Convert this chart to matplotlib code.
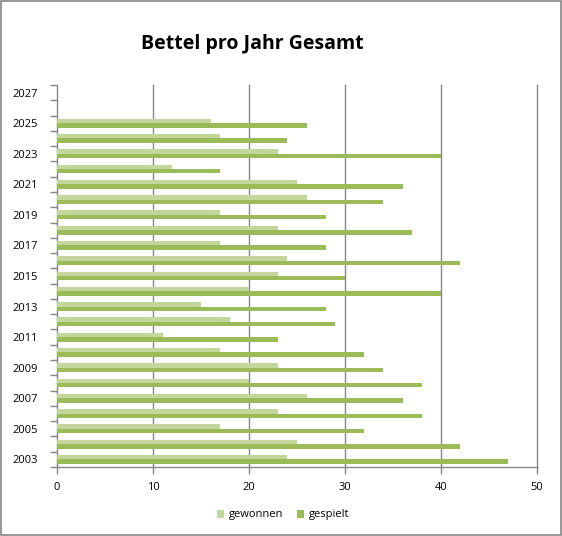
import matplotlib.pyplot as plt
import numpy as np
from matplotlib.patches import Rectangle

years = list(range(2003, 2028))
gewonnen = [24, 25, 17, 23, 26, 20, 23, 17, 11, 18, 15, 20, 23,
            24, 17, 23, 17, 26, 25, 12, 23, 17, 16, 0, 0]
gespielt = [47, 42, 32, 38, 36, 38, 34, 32, 23, 29, 28, 40, 30,
            42, 28, 37, 28, 34, 36, 17, 40, 24, 26, 0, 0]
x_ticks = [0, 10, 20, 30, 40, 50]

plt.rcParams['font.family'] = ['Open Sans', 'DejaVu Sans']

fig = plt.figure(figsize=(5.62, 5.36), dpi=100)
fig.patches.append(Rectangle((0.001, 0.001), 0.997, 0.997, transform=fig.transFigure,
                             fill=False, edgecolor='#868686', linewidth=1.2))

ax = fig.add_axes([57 / 562, 1 - 467 / 536, 480 / 562, 382 / 536])

y = np.arange(len(years))
h = 0.29
ax.barh(y + h / 2, gewonnen, height=h, color='#C3D69B', label='gewonnen', zorder=3)
ax.barh(y - h / 2, gespielt, height=h, color='#9BBB59', label='gespielt', zorder=3)

ax.set_xlim(0, 50)
ax.set_ylim(-0.5, len(years) - 0.5)
ax.set_xticks(x_ticks)
ax.set_xticklabels([str(t) for t in x_ticks], fontsize=8)
ax.set_yticks(y[::2])
ax.set_yticklabels([str(v) for v in years[::2]], fontsize=8)
ax.set_yticks(np.arange(-0.5, len(years), 1), minor=True)
ax.tick_params(axis='y', which='major', length=0, pad=14)
ax.tick_params(axis='y', which='minor', length=5, color='#868686', width=1)
ax.tick_params(axis='x', length=5, color='#868686', width=1, pad=6)

for t in x_ticks[1:]:
    ax.axvline(t, color='#868686', linewidth=1, zorder=1, clip_on=False)

for s in ['top', 'right']:
    ax.spines[s].set_visible(False)
for s in ['left', 'bottom']:
    ax.spines[s].set_color('#868686')
    ax.spines[s].set_linewidth(1)

fig.text(252 / 562, 1 - 44 / 536, 'Bettel pro Jahr Gesamt', ha='center', va='center',
         fontsize=14, fontweight='bold')

fig.legend(loc='center', bbox_to_anchor=(283 / 562, 1 - 515 / 536), ncol=2,
           frameon=False, fontsize=8, handlelength=0.7, handleheight=0.7,
           columnspacing=1.2, handletextpad=0.4)

fig.savefig('out.png', dpi=100)
